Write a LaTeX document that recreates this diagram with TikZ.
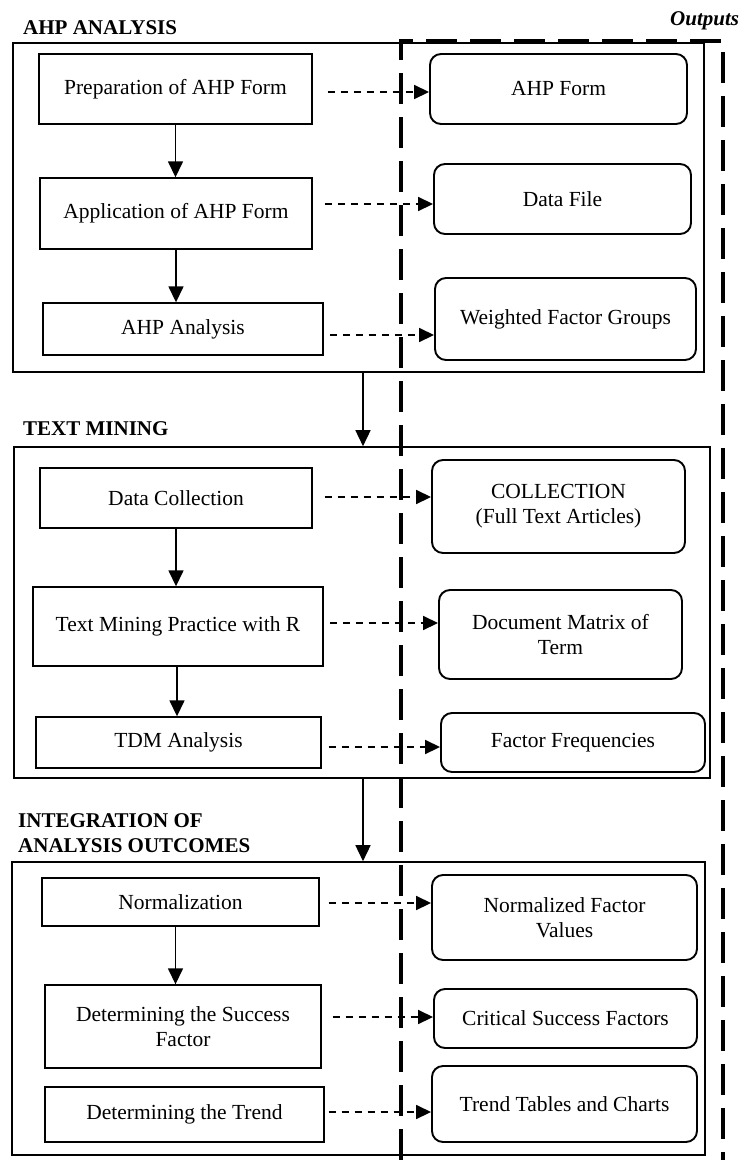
\documentclass[tikz,border=0pt]{standalone}
\usepackage{fontspec}
\setmainfont{Liberation Serif}
\usetikzlibrary{arrows.meta}
\begin{document}
\begin{tikzpicture}[x=1pt,y=-1pt,
  every node/.style={font=\fontsize{21.5}{25}\selectfont, align=center, inner sep=0pt},
  sect/.style={draw, line width=1.6pt},
  proc/.style={draw, line width=1.4pt},
  outbox/.style={draw, line width=1.9pt, rounded corners=11pt},
  titletext/.style={font=\fontsize{21}{25}\selectfont\bfseries, anchor=base west, align=left},
  arr/.style={line width=1.5pt, -{Triangle[length=16pt,width=15pt]}},
  dasharr/.style={line width=1.7pt, dash pattern=on 7.5pt off 5.5pt, -{Triangle[length=15pt,width=14pt]}},
  outline/.style={line width=3.3pt, dash pattern=on 31pt off 13pt}
]
\fill[white] (0,0) rectangle (739,1160);
\useasboundingbox (0,0) rectangle (739,1160);

% ---------- titles ----------
\node[titletext] (t1) at (23,34) {AHP ANALYSIS};
\node[titletext] (t2) at (23,435) {TEXT MINING};
\node[titletext] (t3a) at (18,827) {INTEGRATION OF};
\node[titletext] (t3b) at (18,852) {ANALYSIS OUTCOMES};
\node[font=\fontsize{21}{25}\selectfont\bfseries\itshape, anchor=base west] (outlbl) at (670,25) {Outputs};

% ---------- section boxes ----------
\node[sect, minimum width=691pt, minimum height=329pt] (ahpbox) at (358.5,207.5) {};
\node[sect, minimum width=696pt, minimum height=331pt] (tmbox) at (362,612.5) {};
\node[sect, minimum width=693pt, minimum height=293pt] (intbox) at (358.5,1008.5) {};

% ---------- AHP ----------
\node[proc, minimum width=273pt, minimum height=70pt] (prep) at (175.5,89) {Preparation of AHP Form};
\node[proc, minimum width=272pt, minimum height=71pt] (app) at (176,213.5) {Application of AHP Form};
\node[proc, minimum width=280pt, minimum height=52pt] (ahpan) at (183,329) {AHP Analysis};
\node[outbox, minimum width=257pt, minimum height=70pt] (ahpform) at (558.5,89) {AHP Form};
\node[outbox, minimum width=257pt, minimum height=70pt] (datafile) at (562.5,199) {Data File};
\node[outbox, minimum width=261pt, minimum height=82pt] (weighted) at (565.5,319) {Weighted Factor Groups};

% ---------- TEXT MINING ----------
\node[proc, minimum width=272pt, minimum height=60pt] (dcoll) at (176,498) {Data Collection};
\node[proc, minimum width=290pt, minimum height=79pt] (tmp) at (178,626.5) {Text Mining Practice with R};
\node[proc, minimum width=285pt, minimum height=51pt] (tdm) at (178.5,742.5) {TDM Analysis};
\node[outbox, minimum width=253pt, minimum height=93pt] (coll) at (558.5,506.5) {COLLECTION\\(Full Text Articles)};
\node[outbox, minimum width=243pt, minimum height=89pt] (docm) at (560.5,634.5) {Document Matrix of\\Term};
\node[outbox, minimum width=264pt, minimum height=59pt] (ffreq) at (573,742.5) {Factor Frequencies};

% ---------- INTEGRATION ----------
\node[proc, minimum width=277pt, minimum height=48pt] (norm) at (180.5,902) {Normalization};
\node[proc, minimum width=276pt, minimum height=83pt] (dsucc) at (183,1026.5) {Determining the Success\\Factor};
\node[proc, minimum width=279pt, minimum height=55pt] (dtrend) at (184.5,1114.5) {Determining the Trend};
\node[outbox, minimum width=265pt, minimum height=85pt] (nvals) at (564.5,917.5) {Normalized Factor\\Values};
\node[outbox, minimum width=263pt, minimum height=59pt] (csf) at (565.5,1018.5) {Critical Success Factors};
\node[outbox, minimum width=265pt, minimum height=76pt] (ttab) at (564.5,1104) {Trend Tables and Charts};

% ---------- solid flow arrows ----------
\draw[arr] (prep.south) -- (prep.south |- app.north);
\draw[arr] (app.south) -- (app.south |- ahpan.north);
\draw[arr] (dcoll.south) -- (dcoll.south |- tmp.north);
\draw[arr] ([xshift=-1pt]tmp.south) -- ([xshift=-1pt]tmp.south |- tdm.north);
\draw[arr] ([xshift=-5pt]norm.south) -- ([xshift=-5pt]norm.south |- dsucc.north);

\coordinate (cx) at (363,0);
\draw[arr] (ahpbox.south -| cx) -- (tmbox.north -| cx);
\draw[arr] (tmbox.south -| cx) -- (intbox.north -| cx);

% ---------- dashed output arrows ----------
\draw[dasharr] ([xshift=15pt,yshift=-3pt]prep.east) -- ([yshift=-3pt]ahpform.west);
\draw[dasharr] ([xshift=12pt,yshift=9.5pt]app.east) -- ([yshift=-5pt]datafile.west);
\draw[dasharr] ([xshift=6pt,yshift=-6pt]ahpan.east) -- ([yshift=-16pt]weighted.west);

\draw[dasharr] ([xshift=12pt,yshift=1pt]dcoll.east) -- ([yshift=9.5pt]coll.west);
\draw[dasharr] ([xshift=6pt,yshift=3.5pt]tmp.east) -- ([yshift=11.5pt]docm.west);
\draw[dasharr] ([xshift=7pt,yshift=-4.5pt]tdm.east) -- ([yshift=-4.5pt]ffreq.west);

\draw[dasharr] ([xshift=9pt,yshift=-1pt]norm.east) -- ([yshift=14.5pt]nvals.west);
\draw[dasharr] ([xshift=11pt,yshift=9.5pt]dsucc.east) -- ([yshift=1.5pt]csf.west);
\draw[dasharr] ([xshift=4pt,yshift=2.5pt]dtrend.east) -- ([yshift=-8pt]ttab.west);

% ---------- outputs region ----------
\coordinate (oBL) at (401,1160);
\coordinate (oTL) at (401,41);
\coordinate (oTR) at (723,41);
\coordinate (oBR) at (723,1160);
\draw[outline] (oBL) -- (oTL) -- (oTR) -- (oBR);
\end{tikzpicture}
\end{document}
